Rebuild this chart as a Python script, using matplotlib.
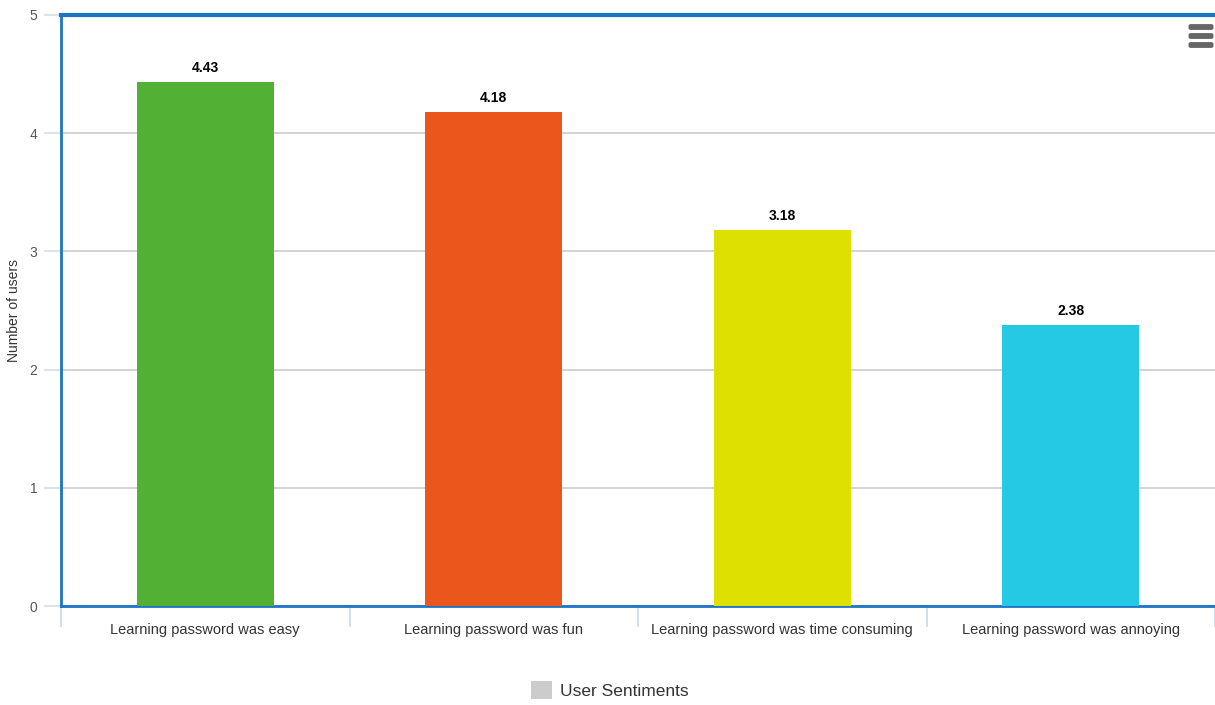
import matplotlib.pyplot as plt
from matplotlib.patches import Patch, FancyBboxPatch
import numpy as np

plt.rcParams["font.family"] = ["Liberation Sans", "DejaVu Sans"]

categories = [
    "Learning password was easy",
    "Learning password was fun",
    "Learning password was time consuming",
    "Learning password was annoying",
]
values = [4.43, 4.18, 3.18, 2.38]
bar_colors = ["#52b135", "#eb561c", "#dde000", "#25c9e4"]
series_name = "User Sentiments"
y_ticks = [0, 1, 2, 3, 4, 5]

blue = "#1c74c6"
grid_grey = "#cccccc"

fig = plt.figure(figsize=(12.15, 7.05), dpi=100)
ax = fig.add_axes([61 / 1215, 99 / 705, 1 - 61 / 1215, (606 - 15) / 705])

x = np.arange(len(categories))
bars = ax.bar(x, values, width=0.475, color=bar_colors, zorder=3)

for xi, v in zip(x, values):
    ax.annotate(f"{v:.2f}", (xi, v), xytext=(0, 5), textcoords="offset points",
                ha="center", va="bottom", fontsize=10, fontweight="bold", color="#000000")

ax.set_xlim(-0.5, len(categories) - 0.5)
ax.set_ylim(0, 5)
ax.set_yticks(y_ticks)
ax.set_yticklabels([str(t) for t in y_ticks], fontsize=10, color="#555555")
ax.yaxis.grid(True, color=grid_grey, linewidth=1.2, zorder=0)
ax.tick_params(axis="y", length=12, color="#dde3ea", width=1.5, pad=5)

# category labels centred, tick marks on boundaries
ax.set_xticks(x)
ax.set_xticklabels(categories, fontsize=10.5, color="#333333")
ax.tick_params(axis="x", length=0, pad=12)
ax.set_xticks(np.arange(len(categories) + 1) - 0.5, minor=True)
ax.tick_params(axis="x", which="minor", length=15, color="#ccd6eb", width=1.2)

ax.set_ylabel("Number of users", fontsize=10, color="#333333", labelpad=6)

for side in ["left", "bottom"]:
    ax.spines[side].set_color(blue)
    ax.spines[side].set_linewidth(2)
ax.spines["top"].set_color(blue)
ax.spines["top"].set_linewidth(3)
ax.spines["right"].set_visible(False)

# legend
fig.legend(handles=[Patch(facecolor="#cccccc", edgecolor="none")], labels=[series_name],
           loc="center", bbox_to_anchor=(0.502, 0.021), frameon=False, fontsize=12.5,
           handlelength=1.2, handleheight=1.2, handletextpad=0.45, labelcolor="#333333")

# hamburger menu icon
for yy in [27, 36, 45]:
    fig.patches.append(FancyBboxPatch((1191 / 1215, (705 - yy - 1.5) / 705), 20 / 1215, 3 / 705,
                                      boxstyle="round,pad=0.002", transform=fig.transFigure,
                                      facecolor="#666666", edgecolor="none"))

fig.savefig("out.png", dpi=100)
